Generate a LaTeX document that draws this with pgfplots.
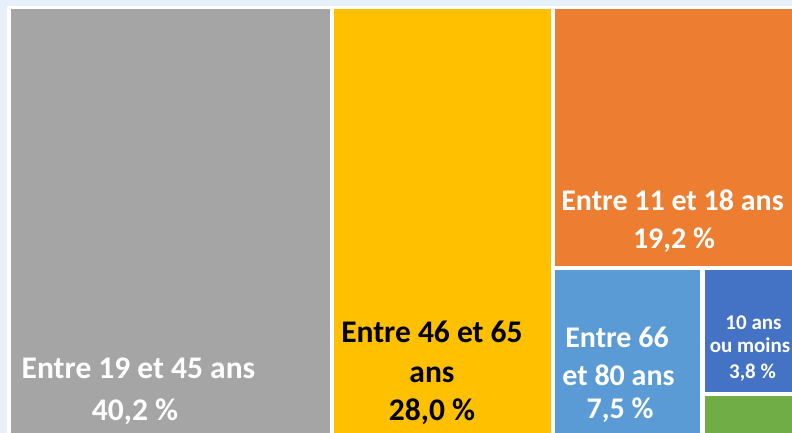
\documentclass[border=0pt]{standalone}
\usepackage{pgfplots}
\pgfplotsset{compat=1.18}
\usepackage{fontspec}
\setmainfont{Carlito}
\definecolor{cgray}{HTML}{A5A5A5}
\definecolor{cyellow}{HTML}{FFC000}
\definecolor{corange}{HTML}{ED7D31}
\definecolor{clblue}{HTML}{5B9BD5}
\definecolor{cdblue}{HTML}{4472C4}
\definecolor{cgreen}{HTML}{70AD47}
\definecolor{cbg}{RGB}{231,240,250}
\begin{document}
\begin{tikzpicture}
\begin{axis}[
  at={(0,0)}, anchor=south west,
  width=792bp, height=433bp, scale only axis,
  xmin=0, xmax=792, ymin=0, ymax=433, y dir=reverse,
  hide axis, clip=true,
]
% background and plot area
\addplot[fill=cbg, draw=none] coordinates {(0,0) (792,0) (792,433) (0,433)} -- cycle;
\addplot[fill=white, draw=none] coordinates {(7.3,5.7) (792,5.7) (792,433) (7.3,433)} -- cycle;
% treemap tiles (40.2, 28.0, 19.2, 7.5, 3.8, rest)
\addplot[fill=cgray, draw=none] coordinates {(11,9.5) (329.5,9.5) (329.5,433) (11,433)} -- cycle;
\addplot[fill=cyellow, draw=none] coordinates {(333.5,9.5) (551,9.5) (551,433) (333.5,433)} -- cycle;
\addplot[fill=corange, draw=none] coordinates {(555,9.5) (792,9.5) (792,266) (555,266)} -- cycle;
\addplot[fill=clblue, draw=none] coordinates {(555,270) (700,270) (700,433) (555,433)} -- cycle;
\addplot[fill=cdblue, draw=none] coordinates {(704.5,270) (792,270) (792,392) (704.5,392)} -- cycle;
\addplot[fill=cgreen, draw=none] coordinates {(704.5,396) (792,396) (792,433) (704.5,433)} -- cycle;
% labels
\tikzset{lab/.style={anchor=base, inner sep=0pt, text=white},
         big/.style={lab, font=\fontsize{31.5bp}{36bp}\selectfont\bfseries},
         mid/.style={lab, font=\fontsize{30bp}{36bp}\selectfont\bfseries},
         small/.style={lab, font=\fontsize{21bp}{24bp}\selectfont\bfseries}}
\node[big] at (axis cs:138.5,378) {Entre 19 et 45 ans};
\node[big] at (axis cs:135,420) {40,2 \%};
\node[big, text=black] at (axis cs:432,342) {Entre 46 et 65};
\node[big, text=black] at (axis cs:432,382) {ans};
\node[big, text=black] at (axis cs:432,420) {28,0 \%};
\node[mid] at (axis cs:672.5,210) {Entre 11 et 18 ans};
\node[mid] at (axis cs:674,248) {19,2 \%};
\node[mid] at (axis cs:617,347) {Entre 66};
\node[mid] at (axis cs:618.5,385) {et 80 ans};
\node[mid] at (axis cs:620,418) {7,5 \%};
\node[small] at (axis cs:753.5,329) {10 ans};
\node[small] at (axis cs:750,352) {ou moins};
\node[small] at (axis cs:752.5,378) {3,8 \%};
\end{axis}
\pgfresetboundingbox
\useasboundingbox (0,0) rectangle (792bp,433bp);
\end{tikzpicture}
\end{document}
